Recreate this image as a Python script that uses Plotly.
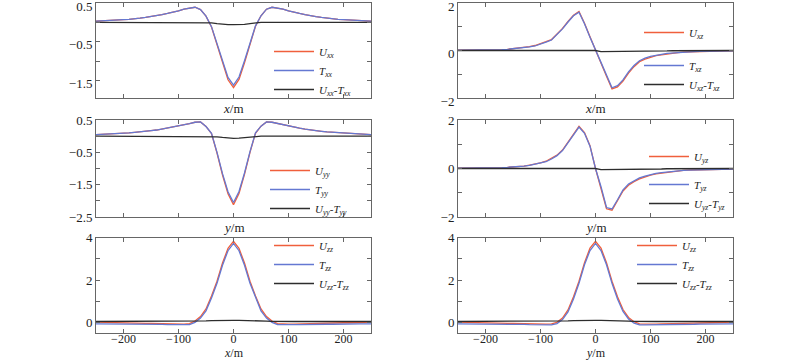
import plotly.graph_objects as go

# ---------------- data ----------------
x_m = list(range(-250, 251, 10))

# row 1 left : Uxx / Txx / Uxx-Txx along x
Uxx = [0.03, 0.035, 0.04, 0.05, 0.06, 0.07, 0.08, 0.09, 0.11, 0.13, 0.15, 0.17, 0.20,
       0.23, 0.26, 0.30, 0.34, 0.37, 0.39, 0.33, 0.16, -0.12, -0.56, -1.06, -1.48, -1.68,
       -1.47, -1.04, -0.54, -0.10, 0.17, 0.34, 0.39, 0.37, 0.34, 0.30, 0.26, 0.23, 0.20,
       0.17, 0.15, 0.13, 0.11, 0.09, 0.08, 0.07, 0.06, 0.05, 0.04, 0.035, 0.03]
Txx = [0.03, 0.035, 0.04, 0.05, 0.06, 0.07, 0.08, 0.09, 0.11, 0.13, 0.15, 0.17, 0.20,
       0.23, 0.26, 0.30, 0.34, 0.37, 0.39, 0.33, 0.16, -0.11, -0.53, -1.01, -1.42, -1.62,
       -1.41, -0.99, -0.51, -0.09, 0.17, 0.34, 0.39, 0.37, 0.34, 0.30, 0.26, 0.23, 0.20,
       0.17, 0.15, 0.13, 0.11, 0.09, 0.08, 0.07, 0.06, 0.05, 0.04, 0.035, 0.03]
Dxx = [0.0, 0.0, 0.0, 0.0, 0.0, 0.0, 0.0, 0.0, 0.0, 0.0, 0.0, 0.0, 0.0,
       0.0, 0.0, 0.0, 0.0, 0.0, 0.0, 0.0, 0.0, -0.01, -0.03, -0.05, -0.06, -0.06,
       -0.06, -0.05, -0.03, -0.01, 0.0, 0.0, 0.0, 0.0, 0.0, 0.0, 0.0, 0.0, 0.0,
       0.0, 0.0, 0.0, 0.0, 0.0, 0.0, 0.0, 0.0, 0.0, 0.0, 0.0, 0.0]

# row 1 right : Uxz / Txz / Uxz-Txz along x
Uxz = [0.01, 0.01, 0.01, 0.015, 0.02, 0.02, 0.025, 0.03, 0.04, 0.05, 0.07, 0.09, 0.12,
       0.16, 0.21, 0.28, 0.37, 0.46, 0.69, 0.93, 1.22, 1.48, 1.64, 1.15, 0.58, 0.0,
       -0.55, -1.08, -1.62, -1.53, -1.29, -0.95, -0.68, -0.47, -0.36, -0.28, -0.22, -0.18,
       -0.14, -0.11, -0.09, -0.07, -0.06, -0.05, -0.04, -0.035, -0.03, -0.025, -0.02,
       -0.02, -0.015]
Txz = [0.01, 0.01, 0.01, 0.015, 0.02, 0.02, 0.025, 0.03, 0.04, 0.05, 0.07, 0.09, 0.12,
       0.15, 0.19, 0.26, 0.35, 0.44, 0.67, 0.91, 1.20, 1.46, 1.61, 1.13, 0.56, 0.0,
       -0.50, -1.03, -1.57, -1.48, -1.24, -0.90, -0.63, -0.43, -0.32, -0.25, -0.19, -0.16,
       -0.12, -0.10, -0.08, -0.07, -0.06, -0.05, -0.04, -0.035, -0.03, -0.025, -0.02,
       -0.02, -0.015]
Dxz = [0.0, 0.0, 0.0, 0.0, 0.0, 0.0, 0.0, 0.0, 0.0, 0.0, 0.0, 0.0, 0.0,
       0.01, 0.02, 0.02, 0.02, 0.02, 0.02, 0.02, 0.02, 0.02, 0.03, 0.02, 0.02, 0.0,
       -0.05, -0.05, -0.05, -0.05, -0.05, -0.05, -0.05, -0.04, -0.04, -0.03, -0.03, -0.02,
       -0.02, -0.01, -0.01, 0.0, 0.0, 0.0, 0.0, 0.0, 0.0, 0.0, 0.0, 0.0, 0.0]

# row 2 left : Uyy / Tyy / Uyy-Tyy along y
Uyy = [0.05, 0.055, 0.06, 0.07, 0.08, 0.09, 0.10, 0.12, 0.13, 0.15, 0.17, 0.19, 0.22,
       0.25, 0.28, 0.31, 0.35, 0.39, 0.43, 0.44, 0.30, 0.08, -0.52, -1.20, -1.78, -2.12,
       -1.77, -1.18, -0.50, 0.09, 0.31, 0.44, 0.43, 0.39, 0.35, 0.31, 0.28, 0.25, 0.22,
       0.19, 0.17, 0.15, 0.13, 0.12, 0.10, 0.09, 0.08, 0.07, 0.06, 0.055, 0.05]
Tyy = [0.05, 0.055, 0.06, 0.07, 0.08, 0.09, 0.10, 0.12, 0.13, 0.15, 0.17, 0.19, 0.22,
       0.25, 0.28, 0.31, 0.35, 0.39, 0.43, 0.44, 0.30, 0.09, -0.50, -1.16, -1.72, -2.05,
       -1.71, -1.14, -0.48, 0.10, 0.31, 0.44, 0.43, 0.39, 0.35, 0.31, 0.28, 0.25, 0.22,
       0.19, 0.17, 0.15, 0.13, 0.12, 0.10, 0.09, 0.08, 0.07, 0.06, 0.055, 0.05]
Dyy = [0.0, 0.0, 0.0, 0.0, 0.0, 0.0, 0.0, 0.0, 0.0, 0.0, 0.0, 0.0, 0.0,
       0.0, 0.0, 0.0, 0.0, 0.0, 0.0, 0.0, 0.0, -0.01, -0.02, -0.04, -0.06, -0.07,
       -0.06, -0.04, -0.02, -0.01, 0.0, 0.0, 0.0, 0.0, 0.0, 0.0, 0.0, 0.0, 0.0,
       0.0, 0.0, 0.0, 0.0, 0.0, 0.0, 0.0, 0.0, 0.0, 0.0, 0.0, 0.0]

# row 2 right : Uyz / Tyz / Uyz-Tyz along y
Uyz = [0.01, 0.01, 0.015, 0.015, 0.02, 0.025, 0.03, 0.035, 0.04, 0.05, 0.06, 0.08, 0.10,
       0.14, 0.18, 0.23, 0.30, 0.41, 0.55, 0.76, 1.09, 1.44, 1.74, 1.48, 0.94, 0.0,
       -0.80, -1.66, -1.72, -1.34, -0.93, -0.69, -0.54, -0.43, -0.34, -0.27, -0.22, -0.19,
       -0.15, -0.12, -0.10, -0.08, -0.07, -0.06, -0.05, -0.04, -0.035, -0.03, -0.025,
       -0.02, -0.02]
Tyz = [0.01, 0.01, 0.015, 0.015, 0.02, 0.025, 0.03, 0.035, 0.04, 0.05, 0.06, 0.08, 0.10,
       0.13, 0.17, 0.22, 0.28, 0.39, 0.53, 0.74, 1.07, 1.42, 1.71, 1.45, 0.92, 0.0,
       -0.75, -1.61, -1.67, -1.29, -0.88, -0.64, -0.50, -0.39, -0.31, -0.24, -0.20, -0.17,
       -0.14, -0.11, -0.10, -0.08, -0.07, -0.06, -0.05, -0.04, -0.035, -0.03, -0.025,
       -0.02, -0.02]
Dyz = [0.0, 0.0, 0.0, 0.0, 0.0, 0.0, 0.0, 0.0, 0.0, 0.0, 0.0, 0.0, 0.0,
       0.01, 0.01, 0.01, 0.02, 0.02, 0.02, 0.02, 0.02, 0.02, 0.03, 0.03, 0.02, 0.0,
       -0.05, -0.05, -0.05, -0.05, -0.05, -0.05, -0.04, -0.04, -0.03, -0.03, -0.02, -0.02,
       -0.01, -0.01, 0.0, 0.0, 0.0, 0.0, 0.0, 0.0, 0.0, 0.0, 0.0, 0.0, 0.0]

# row 3 left : Uzz / Tzz / Uzz-Tzz along x
Uzz_x = [0.03, 0.02, 0.02, 0.01, 0.0, 0.0, -0.01, -0.02, -0.02, -0.03, -0.03, -0.04, -0.05,
         -0.05, -0.06, -0.06, -0.06, -0.04, 0.08, 0.29, 0.65, 1.26, 1.95, 2.80, 3.49, 3.82,
         3.49, 2.80, 1.95, 1.26, 0.65, 0.29, 0.08, -0.04, -0.06, -0.06, -0.06, -0.05, -0.05,
         -0.04, -0.03, -0.03, -0.02, -0.02, -0.01, 0.0, 0.0, 0.01, 0.02, 0.02, 0.03]
Tzz_x = [-0.05, -0.05, -0.05, -0.06, -0.06, -0.06, -0.06, -0.07, -0.07, -0.07, -0.07, -0.08, -0.08,
         -0.09, -0.09, -0.10, -0.10, -0.09, 0.02, 0.22, 0.56, 1.16, 1.85, 2.70, 3.38, 3.72,
         3.38, 2.70, 1.85, 1.16, 0.56, 0.22, 0.02, -0.09, -0.10, -0.10, -0.09, -0.09, -0.08,
         -0.08, -0.07, -0.07, -0.07, -0.07, -0.06, -0.06, -0.06, -0.06, -0.05, -0.05, -0.05]
Dzz_x = [0.06, 0.06, 0.06, 0.06, 0.06, 0.06, 0.06, 0.06, 0.06, 0.06, 0.06, 0.06, 0.06,
         0.06, 0.06, 0.06, 0.06, 0.06, 0.07, 0.08, 0.09, 0.10, 0.11, 0.11, 0.11, 0.11,
         0.11, 0.11, 0.11, 0.10, 0.09, 0.08, 0.07, 0.06, 0.06, 0.06, 0.06, 0.06, 0.06,
         0.06, 0.06, 0.06, 0.06, 0.06, 0.06, 0.06, 0.06, 0.06, 0.06, 0.06, 0.06]

# row 3 right : Uzz / Tzz / Uzz-Tzz along y
Uzz_y = [0.03, 0.02, 0.02, 0.01, 0.0, 0.0, -0.01, -0.02, -0.02, -0.03, -0.03, -0.04, -0.05,
         -0.05, -0.06, -0.06, -0.06, -0.05, 0.02, 0.22, 0.60, 1.22, 1.95, 2.82, 3.50, 3.82,
         3.50, 2.82, 1.95, 1.22, 0.62, 0.25, 0.05, -0.05, -0.06, -0.06, -0.06, -0.05, -0.05,
         -0.04, -0.03, -0.03, -0.02, -0.02, -0.01, 0.0, 0.0, 0.01, 0.02, 0.02, 0.03]
Tzz_y = [-0.05, -0.05, -0.05, -0.06, -0.06, -0.06, -0.06, -0.07, -0.07, -0.07, -0.07, -0.08, -0.08,
         -0.09, -0.09, -0.10, -0.10, -0.10, -0.04, 0.15, 0.51, 1.12, 1.85, 2.72, 3.39, 3.72,
         3.39, 2.72, 1.85, 1.12, 0.53, 0.18, -0.02, -0.10, -0.10, -0.10, -0.09, -0.09, -0.08,
         -0.08, -0.07, -0.07, -0.07, -0.07, -0.06, -0.06, -0.06, -0.06, -0.05, -0.05, -0.05]
Dzz_y = Dzz_x

# tick labels
x_ticks = [-200, -100, 0, 100, 200]
yt_xx = [0.5, -0.5, -1.5]
yt_yy = [0.5, -0.5, -1.5, -2.5]
yt_xz = [2, 0, -2]
yt_zz = [4, 2, 0]

# ---------------- styling ----------------
C_U = "rgb(240,95,60)"
C_T = "rgb(100,120,210)"
C_D = "rgb(45,45,45)"
SERIF = "Liberation Serif"
W, H = 800, 360
AX = "#666"


def px_x(p):
    return p / W


def px_y(p):
    return 1 - p / H


panels = [
    dict(s="xx", v="x", U=Uxx, T=Txx, D=Dxx, col=0, row=0, yr=[-1.95, 0.5],
         tv=yt_xx, minor=0.5, leg=(269, 37), gap=None),
    dict(s="xz", v="x", U=Uxz, T=Txz, D=Dxz, col=1, row=0, yr=[-2, 2],
         tv=yt_xz, minor=1, leg=(639, 18), gap=14),
    dict(s="yy", v="y", U=Uyy, T=Tyy, D=Dyy, col=0, row=1, yr=[-2.5, 0.5],
         tv=yt_yy, minor=0.5, leg=(265, 156), gap=None),
    dict(s="yz", v="y", U=Uyz, T=Tyz, D=Dyz, col=1, row=1, yr=[-2, 2],
         tv=yt_xz, minor=1, leg=(644, 142), gap=9),
    dict(s="zz", v="x", U=Uzz_x, T=Tzz_x, D=Dzz_x, col=0, row=2, yr=[-0.48, 4.0],
         tv=yt_zz, minor=1, leg=(269, 231), gap=None),
    dict(s="zz", v="y", U=Uzz_y, T=Tzz_y, D=Dzz_y, col=1, row=2, yr=[-0.48, 4.0],
         tv=yt_zz, minor=1, leg=(632, 231), gap=None),
]

xdom = [[96, 371], [458, 733]]
ydom = [[3, 98], [120, 217], [237.5, 333]]
title_y = [108, 227, 353]

fig = go.Figure()
layout = dict(
    width=W, height=H, margin=dict(l=0, r=0, t=0, b=0, autoexpand=False),
    plot_bgcolor="white", paper_bgcolor="white",
    font=dict(family=SERIF, size=13, color="#222"),
    annotations=[],
)

for i, p in enumerate(panels, start=1):
    sfx = "" if i == 1 else str(i)
    legid = "legend" if i == 1 else "legend%d" % i
    s = p["s"]
    sub = "<sub><i>%s</i></sub>" % s
    names = ["<i>U</i>" + sub, "<i>T</i>" + sub, "<i>U</i>" + sub + "-<i>T</i>" + sub]
    groups = ["a", "b", "b"] if p["gap"] else [None, None, None]
    for ys, nm, col, g in zip([p["U"], p["T"], p["D"]], names, [C_U, C_T, C_D], groups):
        fig.add_trace(go.Scatter(
            x=x_m, y=ys, mode="lines", name=nm,
            line=dict(color=col, width=1.3),
            xaxis="x" + sfx, yaxis="y" + sfx, legend=legid,
            legendgroup=(g + str(i)) if g else None,
        ))
    c, r = p["col"], p["row"]
    xd = [px_x(xdom[c][0]), px_x(xdom[c][1])]
    yd = [px_y(ydom[r][1]), px_y(ydom[r][0])]
    bottom = r == 2
    layout["xaxis" + sfx] = dict(
        domain=xd, anchor="y" + sfx, range=[-250, 250], automargin=False,
        tickmode="array", tickvals=x_ticks, showticklabels=bottom,
        ticklabelstandoff=-5,
        ticks="inside", ticklen=4, tickcolor=AX, showline=True, linecolor=AX,
        linewidth=1, mirror="ticks", showgrid=False, zeroline=False,
        tickfont=dict(family=SERIF, size=12, color="#222"),
    )
    layout["yaxis" + sfx] = dict(
        domain=yd, anchor="x" + sfx, range=p["yr"], automargin=False,
        tickmode="array", tickvals=p["tv"], ticklabeloverflow="allow",
        ticklabelshift=3 if r == 0 else 0,
        ticks="inside", ticklen=4, tickcolor=AX, showline=True, linecolor=AX,
        linewidth=1, mirror="ticks", showgrid=False, zeroline=False,
        minor=dict(tickmode="linear", tick0=0, dtick=p["minor"], ticks="inside",
                   ticklen=4, tickcolor=AX, showgrid=False),
        tickfont=dict(family=SERIF, size=13, color="#222"),
    )
    # x-axis title, centred under the panel
    layout["annotations"].append(dict(
        text="<i>%s</i>/m" % p["v"], xref="x%s domain" % sfx, x=0.5,
        yref="paper", y=px_y(title_y[r]), xanchor="center", yanchor="middle",
        showarrow=False, font=dict(family=SERIF, size=12 if bottom else 13, color="#222"),
    ))
    lx, ly = p["leg"]
    layout[legid] = dict(
        x=px_x(lx), y=px_y(ly), xanchor="left", yanchor="top",
        bgcolor="rgba(0,0,0,0)", borderwidth=0,
        font=dict(family=SERIF, size=11, color="#222"),
        tracegroupgap=p["gap"] if p["gap"] else 0,
        itemwidth=40,
    )

fig.update_layout(**layout)
# remove the browser's default 8px page margin so the 800x360 figure fills the window
fig.write_html("out.html", config={"displayModeBar": False},
               post_script="document.body.style.margin='0px';")
